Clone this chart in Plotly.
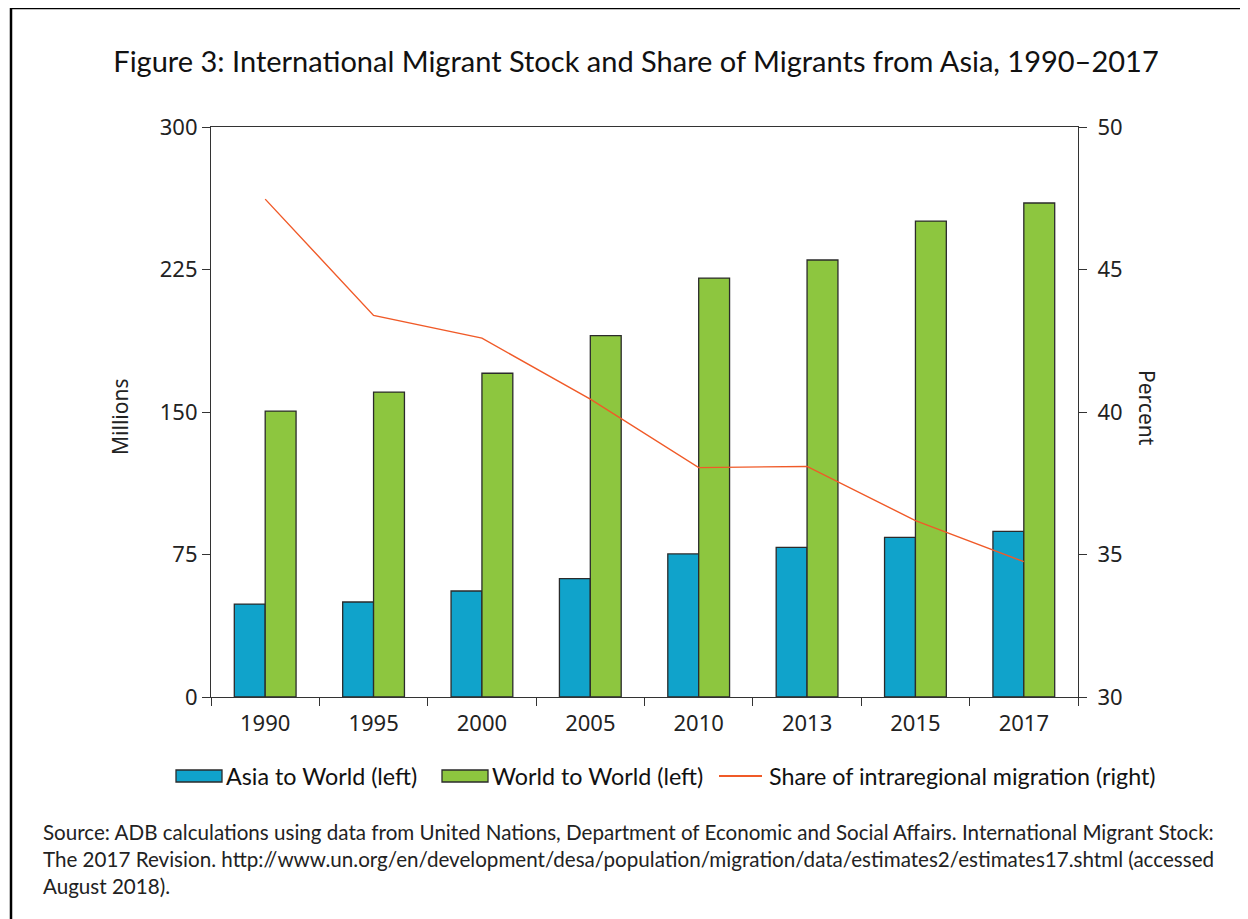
import plotly.graph_objects as go

years = ["1990", "1995", "2000", "2005", "2010", "2013", "2015", "2017"]
asia_to_world = [48.9, 50.0, 55.8, 62.3, 75.3, 78.8, 84.0, 87.2]
world_to_world = [150.5, 160.5, 170.4, 190.2, 220.5, 230.0, 250.5, 260.0]
share_intraregional = [47.47, 43.39, 42.59, 40.45, 38.05, 38.09, 36.19, 34.75]

left_ticks = [0, 75, 150, 225, 300]
right_ticks = [30, 35, 40, 45, 50]

series_names = ["Asia to World (left)", "World to World (left)", "Share of intraregional migration (right)"]
colors = ["#10A3CB", "#8DC63F", "#F05A28"]

title_text = "Figure 3: International Migrant Stock and Share of Migrants from Asia, 1990\u20132017"
source_text = ("Source: ADB calculations using data from United Nations, Department of Economic and Social Affairs. International Migrant Stock:<br>"
               "The 2017 Revision. http://www.un.org/en/development/desa/population/migration/data/estimates2/estimates17.shtml (accessed<br>"
               "August 2018).")

OFF = 8  # page body margin
W, H = 1240, 911
L, R, T, B = 211 - OFF, 1078 - OFF, 127 - OFF, 697 - OFF

def px(x):
    return (x - OFF - L) / (R - L)

def py(y):
    return (B - (y - OFF)) / (B - T)

fig = go.Figure()
fig.add_trace(go.Bar(x=years, y=asia_to_world, name=series_names[0],
                     marker=dict(color=colors[0], line=dict(color="#2b2b2b", width=1.3)),
                     yaxis="y"))
fig.add_trace(go.Bar(x=years, y=world_to_world, name=series_names[1],
                     marker=dict(color=colors[1], line=dict(color="#2b2b2b", width=1.3)),
                     yaxis="y"))
fig.add_trace(go.Scatter(x=years, y=share_intraregional, name=series_names[2],
                         mode="lines", line=dict(color=colors[2], width=1.4), yaxis="y2"))

tickfont = dict(family="Noto Sans", size=22, color="#222")

fig.update_layout(
    width=W, height=H,
    margin=dict(l=L, r=W - R, t=T, b=H - B),
    paper_bgcolor="white", plot_bgcolor="white",
    barmode="group", bargap=0.43, bargroupgap=0,
    showlegend=False,
    xaxis=dict(type="category", showline=True, linecolor="#333", linewidth=1.2, mirror=True,
               ticks="outside", ticklen=8, tickcolor="#333", tickson="boundaries",
               tickfont=tickfont, showgrid=False, zeroline=False, ticklabelstandoff=6),
    yaxis=dict(range=[0, 300], tickvals=left_ticks, showline=True, linecolor="#333", linewidth=1.2,
               ticks="outside", ticklen=8, tickcolor="#333", tickfont=tickfont,
               showgrid=False, zeroline=False),
    yaxis2=dict(range=[30, 50], tickvals=right_ticks, overlaying="y", side="right",
                showline=True, linecolor="#333", linewidth=1.2,
                ticks="outside", ticklen=8, tickcolor="#333", tickfont=tickfont,
                showgrid=False, zeroline=False, ticklabelstandoff=6),
    title=dict(text=title_text, x=px(636), xref="paper", xanchor="center", y=1 - (62 - OFF) / H, yanchor="middle",
               font=dict(family="Lato", size=29, color="#111")),
)

fig.add_annotation(text="Millions", textangle=-90, x=px(120), y=py(417), xref="paper", yref="paper",
                   showarrow=False, font=dict(family="Noto Sans", size=21, color="#222"),
                   xanchor="center", yanchor="middle")
fig.add_annotation(text="Percent", textangle=90, x=px(1147), y=py(408), xref="paper", yref="paper",
                   showarrow=False, font=dict(family="Noto Sans", size=21, color="#222"),
                   xanchor="center", yanchor="middle")

# custom legend
legfont = dict(family="Lato", size=23.3, color="#111")
leg_y = 776
sym_x = [(176, 222), (442, 488), (719, 762)]
txt_x = [224, 490, 767]
for i in range(3):
    x0, x1 = sym_x[i]
    if i < 2:
        fig.add_shape(type="rect", xref="paper", yref="paper",
                      x0=px(x0), x1=px(x1), y0=py(leg_y + 6), y1=py(leg_y - 6),
                      fillcolor=colors[i], line=dict(color="#2b2b2b", width=1.3))
    else:
        fig.add_shape(type="line", xref="paper", yref="paper",
                      x0=px(x0), x1=px(x1), y0=py(leg_y), y1=py(leg_y),
                      line=dict(color=colors[i], width=2))
    fig.add_annotation(text=series_names[i], x=px(txt_x[i]), y=py(leg_y), xref="paper", yref="paper",
                       showarrow=False, xanchor="left", yanchor="middle", font=legfont)

fig.add_annotation(text=source_text, x=px(41), y=py(818), xref="paper", yref="paper",
                   showarrow=False, align="left", xanchor="left", yanchor="top",
                   font=dict(family="Lato", size=20.6, color="#222"))

# outer frame
fig.add_shape(type="rect", xref="paper", yref="paper",
              x0=px(11), x1=px(1270), y0=py(940), y1=py(8),
              line=dict(color="black", width=2.5), fillcolor="rgba(0,0,0,0)", layer="above")

fig.write_html("out.html")
